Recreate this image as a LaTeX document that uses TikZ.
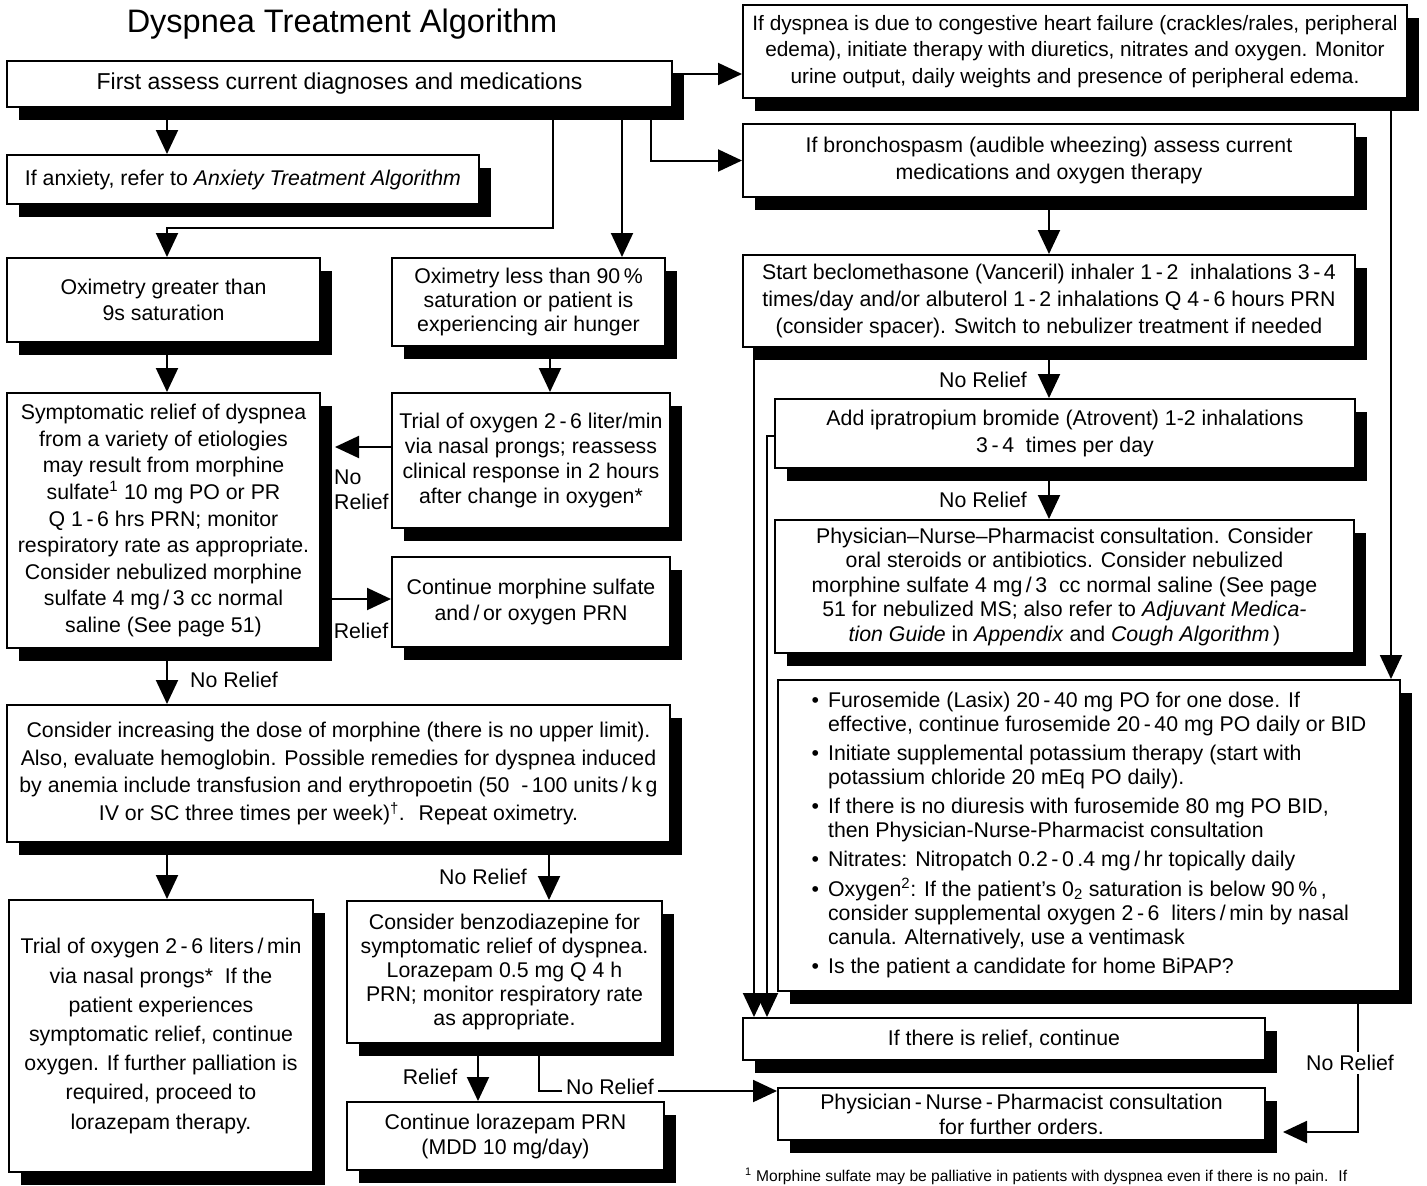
\documentclass[tikz,border=0pt]{standalone}
\usepackage{fontspec}
\setmainfont{Liberation Sans}
\usetikzlibrary{arrows.meta,shadows}
\newcommand\flowbox[7]{%
 \pgfmathsetmacro\fbw{#4-#2}\pgfmathsetmacro\fbh{#5-#3}%
 \pgfmathsetmacro\fbx{(#2+#4)/2}\pgfmathsetmacro\fby{(#3+#5)/2}%
 \node[box,minimum width=\fbw pt,minimum height=\fbh pt,#6] (#1) at (\fbx,\fby) {#7};}
\newcommand\fs[2]{\fontsize{#1}{#2}\selectfont}
\begin{document}
\begin{tikzpicture}[x=1pt,y=-1pt,font=\fs{21.3}{26.6},
  box/.style={draw,line width=2pt,fill=white,inner sep=0pt,align=center,
    drop shadow={shadow xshift=12pt,shadow yshift=-13pt,opacity=1,fill=black}},
  arr/.style={line width=2pt,-{Triangle[length=24pt,width=22pt]}},
  lbl/.style={inner sep=1pt}]
\useasboundingbox (0,0) rectangle (1427,1186);
\clip (0,0) rectangle (1427,1186);
\fill[white] (0,0) rectangle (1427,1186);

\node[font=\fs{32.5}{39},anchor=base] (title) at (342,32) {Dyspnea Treatment Algorithm};

% ---- boxes
\flowbox{A}{7}{61}{672}{107}{font=\fs{23}{28}}{First assess current diagnoses and medications}
\flowbox{chf}{743}{5}{1407}{98}{font=\fs{20.8}{26.5}}{If dyspnea is due to congestive heart failure (crackles/rales, peripheral\\ edema), initiate therapy with diuretics, nitrates and oxygen. Monitor\\ urine output, daily weights and presence of peripheral edema.}
\flowbox{B}{7}{155}{479}{204}{}{If anxiety, refer to \textit{Anxiety Treatment Algorithm}}
\flowbox{E}{743}{124}{1355}{197}{}{If bronchospasm (audible wheezing) assess current\\ medications and oxygen therapy}
\flowbox{F}{743}{255}{1355}{347}{font=\fs{21.3}{27}}{Start beclomethasone (Vanceril) inhaler 1\,-\,2~ inhalations 3\,-\,4\\ times/day and/or albuterol 1\,-\,2 inhalations Q 4\,-\,6 hours PRN\\ (consider spacer). Switch to nebulizer treatment if needed}
\flowbox{G}{775}{399}{1355}{468}{}{Add ipratropium bromide (Atrovent) 1-2 inhalations\\ 3\,-\,4~ times per day}
\flowbox{H}{775}{520}{1354}{653}{font=\fs{21.3}{24.5}}{Physician--Nurse--Pharmacist consultation. Consider\\ oral steroids or antibiotics. Consider nebulized\\ morphine sulfate 4 mg\,/\,3~ cc normal saline (See page\\ 51 for nebulized MS; also refer to \textit{Adjuvant Medica-}\\ \textit{tion Guide} in \textit{Appendix} and \textit{Cough Algorithm\,})}
\flowbox{I}{778}{680}{1400}{991}{font=\fs{21.3}{24}}{%
\begin{tabular}{@{}l@{\hspace{9pt}}l@{}}
\textbullet & Furosemide (Lasix) 20\,-\,40 mg PO for one dose. If\\
 & effective, continue furosemide 20\,-\,40 mg PO daily or BID\\[5pt]
\textbullet & Initiate supplemental potassium therapy (start with\\
 & potassium chloride 20 mEq PO daily).\\[5pt]
\textbullet & If there is no diuresis with furosemide 80 mg PO BID,\\
 & then Physician-Nurse-Pharmacist consultation\\[5pt]
\textbullet & Nitrates: Nitropatch 0.2\,-\,0\,.4 mg\,/\,hr topically daily\\[5pt]
\textbullet & Oxygen\textsuperscript{2}: If the patient's 0\textsubscript{2} saturation is below 90\,\%\,,\\
 & consider supplemental oxygen 2\,-\,6~ liters\,/\,min by nasal\\
 & canula. Alternatively, use a ventimask\\[5pt]
\textbullet & Is the patient a candidate for home BiPAP?
\end{tabular}}
\flowbox{J}{743}{1018}{1265}{1060}{}{If there is relief, continue}
\flowbox{R}{778}{1088}{1265}{1140}{font=\fs{21.3}{25}}{Physician\,-\,Nurse\,-\,Pharmacist consultation\\ for further orders.}
\flowbox{C}{7}{258}{320}{342}{}{Oximetry greater than\\ 9s saturation}
\flowbox{D}{392}{258}{665}{346}{font=\fs{21.3}{24}}{Oximetry less than 90\,\%\\ saturation or patient is\\ experiencing air hunger}
\flowbox{K}{7}{393}{320}{648}{}{Symptomatic relief of dyspnea\\ from a variety of etiologies\\ may result from morphine\\ sulfate\textsuperscript{1} 10 mg PO or PR\\ Q 1\,-\,6 hrs PRN; monitor\\ respiratory rate as appropriate.\\ Consider nebulized morphine\\ sulfate 4 mg\,/\,3 cc normal\\ saline (See page 51)}
\flowbox{L}{392}{393}{670}{528}{font=\fs{21.3}{25}}{Trial of oxygen 2\,-\,6 liter/min\\ via nasal prongs; reassess\\ clinical response in 2 hours\\ after change in oxygen*}
\flowbox{M}{392}{557}{670}{647}{}{Continue morphine sulfate\\ and\,/\,or oxygen PRN}
\flowbox{N}{7}{705}{670}{842}{font=\fs{21.3}{27.7}}{Consider increasing the dose of morphine (there is no upper limit).\\ Also, evaluate hemoglobin. Possible remedies for dyspnea induced\\ by anemia include transfusion and erythropoetin (50~ -\,100 units\,/\,k\,g\\ IV or SC three times per week)\textsuperscript{\dag}.~ Repeat oximetry.}
\flowbox{O}{9}{900}{313}{1172}{font=\fs{21.3}{29.2}}{Trial of oxygen 2\,-\,6 liters\,/\,min\\ via nasal prongs*~ If the\\ patient experiences\\ symptomatic relief, continue\\ oxygen. If further palliation is\\ required, proceed to\\ lorazepam therapy.}
\flowbox{P}{347}{901}{662}{1043}{font=\fs{21.3}{23.8}}{Consider benzodiazepine for\\ symptomatic relief of dyspnea.\\ Lorazepam 0.5 mg Q 4 h\\ PRN; monitor respiratory rate\\ as appropriate.}
\flowbox{Q}{347}{1102}{664}{1170}{font=\fs{21.3}{25}}{Continue lorazepam PRN\\ (MDD 10 mg/day)}

% ---- helper coordinates
\coordinate (c167) at (167,0);
\coordinate (c622) at (622,0);
\coordinate (c550) at (550,0);
\coordinate (c549) at (549,0);
\coordinate (c478) at (478,0);
\coordinate (c754) at (754,0);
\coordinate (c1049) at (1049,0);
\coordinate (c1391) at (1391,0);
\coordinate (y74) at (0,74);
\coordinate (y599) at (0,599);
\coordinate (bendAC) at (553,228);
\coordinate (bendAE) at (651,161);
\coordinate (bendGJ) at (767,436);
\coordinate (lk) at (335,447);
\coordinate (bendPR) at (539,1091);
\coordinate (bendIR) at (1358,1132);
\coordinate (rr) at (1283,1132);

% ---- connectors
\draw[arr] (A.south -| c167) -- (B.north -| c167);
\draw[arr] (A.south -| bendAC) -- (bendAC) -| (C.north -| c167);
\draw[arr] (A.south -| c622) -- (D.north -| c622);
\draw[arr] (A.south -| bendAE) |- (E.west);
\draw[arr] (A.east |- y74) -- (chf.west |- y74);
\draw[arr] (chf.south -| c1391) -- (I.north -| c1391);
\draw[arr] (E.south -| c1049) -- (F.north -| c1049);
\draw[arr] (F.south -| c1049) -- (G.north -| c1049);
\draw[arr] (G.south -| c1049) -- (H.north -| c1049);
\draw[arr] (F.south -| c754) -- (J.north -| c754);
\draw[arr] (G.west |- bendGJ) -- (bendGJ) -- (J.north -| bendGJ);
\draw[arr] (C.south -| c167) -- (K.north -| c167);
\draw[arr] (D.south -| c550) -- (L.north -| c550);
\draw[arr] (L.west |- lk) -- (lk);
\draw[arr] (K.east |- y599) -- (M.west |- y599);
\draw[arr] (K.south -| c167) -- (N.north -| c167);
\draw[arr] (N.south -| c167) -- (O.north -| c167);
\draw[arr] (N.south -| c549) -- (P.north -| c549);
\draw[arr] (P.south -| c478) -- (Q.north -| c478);
\draw[arr] (P.south -| bendPR) -- (bendPR) -- (R.west |- bendPR);
\draw[arr] (I.south -| bendIR) -- (bendIR) -- (rr);

% ---- labels
\node[lbl] (l1) at (983,380) {No Relief};
\node[lbl] (l2) at (983,500) {No Relief};
\node[lbl] (l3) at (234,680) {No Relief};
\node[lbl] (l4) at (483,877) {No Relief};
\node[lbl] (l5) at (430,1077) {Relief};
\node[lbl,fill=white,inner xsep=4pt] (l6) at (610,1087) {No Relief};
\node[lbl,fill=white,inner sep=3pt] (l7) at (1350,1063) {No Relief};
\node[lbl,anchor=west,align=left,font=\fs{21.3}{25}] (l8) at (333,490) {No\\Relief};
\node[lbl] (l9) at (361,631) {Relief};

% ---- footnote
\node[anchor=base west,inner sep=0pt,font=\fs{15.6}{18}] (fn) at (745,1181) {\textsuperscript{1} Morphine sulfate may be palliative in patients with dyspnea even if there is no pain.~ If};
\end{tikzpicture}
\end{document}
